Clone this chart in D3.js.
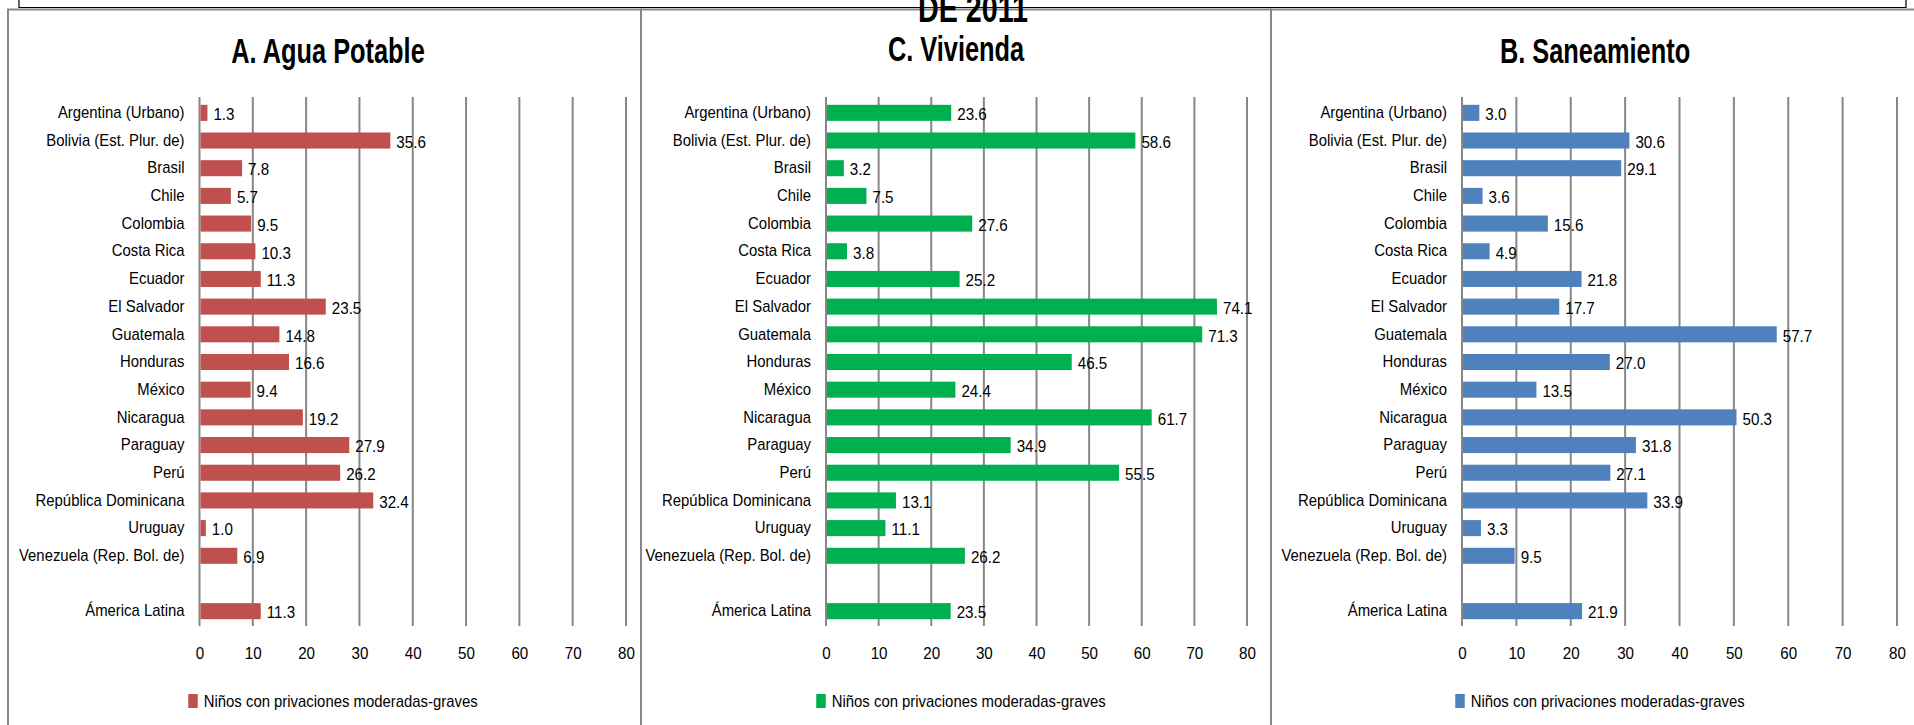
<!DOCTYPE html>
<html>
<head>
<meta charset="utf-8">
<script src="https://cdn.jsdelivr.net/npm/d3@7"></script>
<style>
  html, body { margin: 0; padding: 0; background: #ffffff; }
  svg { display: block; }
  .lbl { font-family: "Liberation Sans", Arial, sans-serif; fill: #000; }
  .ttl { font-family: "Liberation Sans", Arial, sans-serif; font-weight: bold; fill: #000; }
</style>
</head>
<body>
<svg id="chart" width="1914" height="725"></svg>
<script>
// ---------------- data ----------------
const categories = [
  "Argentina (Urbano)", "Bolivia (Est. Plur. de)", "Brasil", "Chile", "Colombia",
  "Costa Rica", "Ecuador", "El Salvador", "Guatemala", "Honduras", "México",
  "Nicaragua", "Paraguay", "Perú", "República Dominicana", "Uruguay",
  "Venezuela (Rep. Bol. de)", "", "Ámerica Latina"
];
const aguaValues = [1.3, 35.6, 7.8, 5.7, 9.5, 10.3, 11.3, 23.5, 14.8, 16.6, 9.4, 19.2, 27.9, 26.2, 32.4, 1.0, 6.9, null, 11.3];
const viviendaValues = [23.6, 58.6, 3.2, 7.5, 27.6, 3.8, 25.2, 74.1, 71.3, 46.5, 24.4, 61.7, 34.9, 55.5, 13.1, 11.1, 26.2, null, 23.5];
const saneamientoValues = [3.0, 30.6, 29.1, 3.6, 15.6, 4.9, 21.8, 17.7, 57.7, 27.0, 13.5, 50.3, 31.8, 27.1, 33.9, 3.3, 9.5, null, 21.9];
const tickValues = [0, 10, 20, 30, 40, 50, 60, 70, 80];
const panelTitles = ["A. Agua Potable", "C. Vivienda", "B. Saneamiento"];
const seriesName = "Niños con privaciones moderadas-graves";
const mainTitle = "DE 2011";

// ---------------- layout ----------------
const panels = [
  { title: panelTitles[0], values: aguaValues, color: "#C0504D",
    box: [8, 641], x0: 199.5, x1: 626, titleX: 328, titleY: 63 },
  { title: panelTitles[1], values: viviendaValues, color: "#00B050",
    box: [641, 1271], x0: 826, x1: 1247, titleX: 956, titleY: 61 },
  { title: panelTitles[2], values: saneamientoValues, color: "#4F81BD",
    box: [1271, 1925], x0: 1462, x1: 1897, titleX: 1595, titleY: 63 }
];
const plotTop = 99, plotBottom = 625;
const gridColor = "#878787";
const condense = 0.92;      // horizontal squeeze of the small texts
const titleCondense = 0.725;

const svg = d3.select("#chart");

// outer frame (bottom of a title box above)
svg.append("path")
  .attr("d", "M19,0 V7.5 H1906 V0")
  .attr("fill", "none").attr("stroke", "#000").attr("stroke-width", 1.2);

const y = d3.scaleBand()
  .domain(d3.range(categories.length))
  .range([plotTop, plotBottom])
  .paddingInner(0.42).paddingOuter(0.21);

panels.forEach(p => {
  const g = svg.append("g");
  // panel border
  g.append("rect")
    .attr("x", p.box[0]).attr("y", 9.5)
    .attr("width", p.box[1] - p.box[0]).attr("height", 800)
    .attr("fill", "none").attr("stroke", gridColor).attr("stroke-width", 2);

  const x = d3.scaleLinear().domain([0, 80]).range([p.x0, p.x1]);

  // gridlines
  g.append("g").selectAll("line").data(tickValues).join("line")
    .attr("x1", d => x(d)).attr("x2", d => x(d))
    .attr("y1", plotTop - 2).attr("y2", plotBottom + 1)
    .attr("stroke", gridColor).attr("stroke-width", 2);

  // x axis tick labels
  const xAxis = d3.axisBottom(x).tickValues(tickValues).tickSize(0).tickPadding(0);
  const ax = g.append("g").attr("transform", `translate(0,${plotBottom + 22})`).call(xAxis);
  ax.select(".domain").remove();
  ax.selectAll("text").attr("class", "lbl").attr("font-size", 16.5)
    .attr("font-family", null).attr("fill", "#000").attr("dy", "0.71em")
    .attr("transform", `scale(${condense},1)`);

  // y axis category labels
  const yAxis = d3.axisLeft(y).tickFormat(i => categories[i]).tickSize(0).tickPadding(0);
  const ay = g.append("g").attr("transform", `translate(${p.x0 - 15},0)`).call(yAxis);
  ay.select(".domain").remove();
  ay.selectAll("text").attr("class", "lbl").attr("font-size", 16.2)
    .attr("font-family", null).attr("fill", "#000").attr("x", 0)
    .attr("transform", `scale(${condense},1)`);

  const rows = p.values.map((v, i) => ({ i, v })).filter(d => d.v !== null);

  // bars
  g.append("g").selectAll("rect").data(rows).join("rect")
    .attr("x", x(0) + 1).attr("y", d => y(d.i))
    .attr("width", d => Math.max(0, x(d.v) - x(0)))
    .attr("height", y.bandwidth())
    .attr("fill", p.color);

  // value labels
  g.append("g").selectAll("text").data(rows).join("text")
    .attr("class", "lbl").attr("font-size", 16.5)
    .attr("transform", d => `translate(${x(d.v) + 7},${y(d.i) + y.bandwidth() / 2 + 1.5}) scale(${condense},1)`)
    .attr("dy", "0.35em")
    .text(d => d.v.toFixed(1));

  // panel title
  g.append("text").attr("class", "ttl").attr("font-size", 35)
    .attr("transform", `translate(${p.titleX},${p.titleY}) scale(${titleCondense},1)`)
    .attr("text-anchor", "middle")
    .text(p.title);

  // legend
  const lg = g.append("g");
  const lt = lg.append("text").attr("class", "lbl").attr("font-size", 16.2)
    .attr("text-anchor", "start").text(seriesName);
  const tw = lt.node().getComputedTextLength() * condense;
  const total = 9.5 + 6 + tw;
  const lx = p.titleX + 5 - total / 2;
  lg.append("rect").attr("x", lx).attr("y", 694).attr("width", 9.5).attr("height", 14)
    .attr("fill", p.color);
  lt.attr("transform", `translate(${lx + 15.5},706.5) scale(${condense},1)`);
});

// main title (cut off at the top, as in the source)
svg.append("text").attr("class", "ttl").attr("font-size", 38)
  .attr("transform", `translate(973,22) scale(0.755,1)`)
  .attr("text-anchor", "middle")
  .text(mainTitle);
</script>
</body>
</html>
